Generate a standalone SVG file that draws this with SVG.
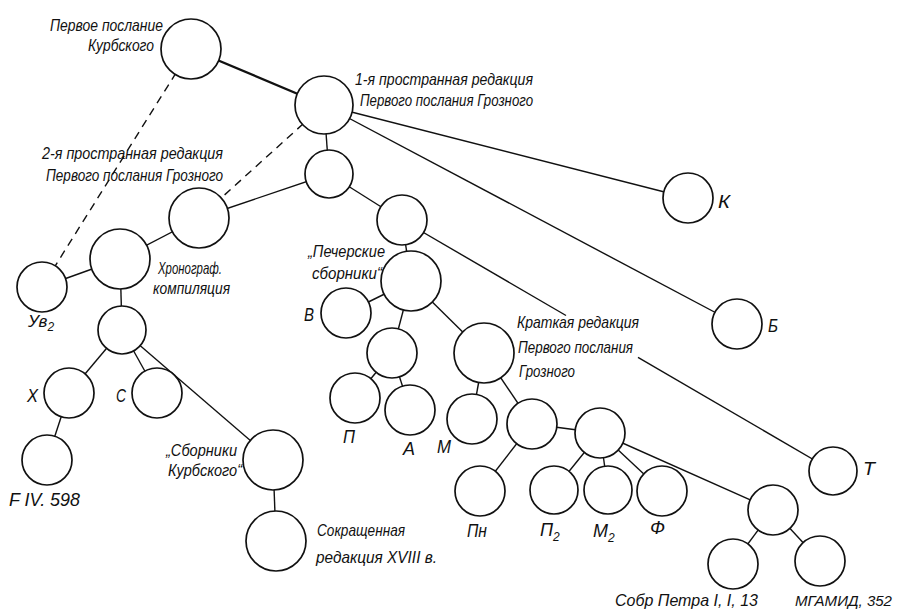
<svg xmlns="http://www.w3.org/2000/svg" width="901" height="614" viewBox="0 0 901 614">
<style>
.n{fill:#fff;stroke:#111;stroke-width:1.7}
.e{stroke:#111;stroke-width:1.4;fill:none}
.thick{stroke-width:2.3}
.d{stroke-dasharray:8 6}
.t{font-family:"Liberation Sans",Arial,sans-serif;font-style:italic;font-size:17px;fill:#111}
.s{font-family:"Liberation Sans",Arial,sans-serif;font-style:italic;font-size:18px;fill:#111}
.sub{font-size:12px}
</style>
<rect width="901" height="614" fill="#fff"/>
<g id="connectors">
<line class="e thick" x1="191" y1="49" x2="324" y2="105"/>
<line class="e d" x1="191" y1="49" x2="42" y2="287"/>
<line class="e d" x1="324" y1="105" x2="199" y2="218"/>
<line class="e" x1="324" y1="105" x2="329" y2="174"/>
<line class="e" x1="324" y1="105" x2="688" y2="198"/>
<line class="e" x1="324" y1="105" x2="737" y2="324"/>
<line class="e" x1="329" y1="174" x2="199" y2="218"/>
<line class="e" x1="329" y1="174" x2="402" y2="220"/>
<line class="e" x1="199" y1="218" x2="120" y2="259"/>
<line class="e" x1="120" y1="259" x2="42" y2="287"/>
<line class="e" x1="120" y1="259" x2="122" y2="330"/>
<line class="e" x1="122" y1="330" x2="69" y2="393"/>
<line class="e" x1="122" y1="330" x2="157" y2="393"/>
<line class="e" x1="122" y1="330" x2="273" y2="460"/>
<line class="e" x1="69" y1="393" x2="47" y2="460"/>
<line class="e" x1="273" y1="460" x2="276" y2="541"/>
<line class="e" x1="402" y1="220" x2="411" y2="281"/>
<line class="e" x1="402" y1="220" x2="566" y2="315.5"/>
<line class="e" x1="638" y1="357.4" x2="833" y2="471"/>
<line class="e" x1="411" y1="281" x2="346" y2="313"/>
<line class="e" x1="411" y1="281" x2="392" y2="353"/>
<line class="e" x1="411" y1="281" x2="484" y2="353"/>
<line class="e" x1="392" y1="353" x2="355" y2="398"/>
<line class="e" x1="392" y1="353" x2="410" y2="410"/>
<line class="e" x1="484" y1="353" x2="472" y2="419"/>
<line class="e" x1="484" y1="353" x2="532" y2="424"/>
<line class="e" x1="532" y1="424" x2="600" y2="433"/>
<line class="e" x1="532" y1="424" x2="480" y2="491"/>
<line class="e" x1="600" y1="433" x2="554" y2="490"/>
<line class="e" x1="600" y1="433" x2="608" y2="490"/>
<line class="e" x1="600" y1="433" x2="662" y2="491"/>
<line class="e" x1="600" y1="433" x2="773" y2="510"/>
<line class="e" x1="773" y1="510" x2="733" y2="564"/>
<line class="e" x1="773" y1="510" x2="820" y2="561"/>
</g>
<g id="n1"><circle class="n" cx="191" cy="49" r="30"/>
<text class="t" x="50" y="31" textLength="113" lengthAdjust="spacingAndGlyphs">Первое послание</text>
<text class="t" x="88" y="51" textLength="66" lengthAdjust="spacingAndGlyphs">Курбского</text></g>
<g id="n2"><circle class="n" cx="324" cy="105" r="29"/>
<text class="t" x="355" y="85" textLength="178" lengthAdjust="spacingAndGlyphs">1-я пространная редакция</text>
<text class="t" x="360" y="106" textLength="173" lengthAdjust="spacingAndGlyphs">Первого послания Грозного</text></g>
<g id="n3"><circle class="n" cx="329" cy="174" r="24"/></g>
<g id="n4"><circle class="n" cx="199" cy="218" r="30"/>
<text class="t" x="42" y="159" textLength="181" lengthAdjust="spacingAndGlyphs">2-я пространная редакция</text>
<text class="t" x="46" y="181" textLength="177" lengthAdjust="spacingAndGlyphs">Первого послания Грозного</text></g>
<g id="n5"><circle class="n" cx="120" cy="259" r="30"/>
<text class="t" x="158" y="274" textLength="64" lengthAdjust="spacingAndGlyphs">Хронограф.</text>
<text class="t" x="153" y="294" textLength="77" lengthAdjust="spacingAndGlyphs">компиляция</text></g>
<g id="n6"><circle class="n" cx="42" cy="287" r="25"/>
<text class="t" x="28" y="327">Ув<tspan class="sub" dy="4">2</tspan></text></g>
<g id="n7"><circle class="n" cx="122" cy="330" r="24"/></g>
<g id="n8"><circle class="n" cx="69" cy="393" r="25"/>
<text class="s" x="27" y="402" textLength="11" lengthAdjust="spacingAndGlyphs">Х</text></g>
<g id="n9"><circle class="n" cx="157" cy="393" r="25"/>
<text class="s" x="116" y="402" textLength="10" lengthAdjust="spacingAndGlyphs">С</text></g>
<g id="n10"><circle class="n" cx="47" cy="460" r="25"/>
<text class="s" x="9" y="506" textLength="71" lengthAdjust="spacingAndGlyphs">F IV. 598</text></g>
<g id="n11"><circle class="n" cx="273" cy="460" r="30"/>
<text class="t" x="166" y="456" textLength="71" lengthAdjust="spacingAndGlyphs">„Сборники</text>
<text class="t" x="168" y="476" textLength="74" lengthAdjust="spacingAndGlyphs">Курбского“</text></g>
<g id="n12"><circle class="n" cx="276" cy="541" r="30"/>
<text class="t" x="317" y="536" textLength="88" lengthAdjust="spacingAndGlyphs">Сокращенная</text>
<text class="t" x="316" y="563" textLength="121" lengthAdjust="spacingAndGlyphs">редакция XVIII в.</text></g>
<g id="n13"><circle class="n" cx="402" cy="220" r="25"/></g>
<g id="n14"><circle class="n" cx="411" cy="281" r="30"/>
<text class="t" x="308" y="257" textLength="77" lengthAdjust="spacingAndGlyphs">„Печерские</text>
<text class="t" x="312" y="279" textLength="70" lengthAdjust="spacingAndGlyphs">сборники“</text></g>
<g id="n15"><circle class="n" cx="346" cy="313" r="25"/>
<text class="s" x="304" y="321" textLength="10" lengthAdjust="spacingAndGlyphs">В</text></g>
<g id="n16"><circle class="n" cx="392" cy="353" r="25"/></g>
<g id="n17"><circle class="n" cx="484" cy="353" r="30"/>
<text class="t" x="517" y="328" textLength="122" lengthAdjust="spacingAndGlyphs">Краткая редакция</text>
<text class="t" x="518" y="353" textLength="115" lengthAdjust="spacingAndGlyphs">Первого послания</text>
<text class="t" x="519" y="377" textLength="56" lengthAdjust="spacingAndGlyphs">Грозного</text></g>
<g id="n18"><circle class="n" cx="355" cy="398" r="25"/>
<text class="s" x="343" y="443" textLength="12" lengthAdjust="spacingAndGlyphs">П</text></g>
<g id="n19"><circle class="n" cx="410" cy="410" r="25"/>
<text class="s" x="403" y="455" textLength="12" lengthAdjust="spacingAndGlyphs">А</text></g>
<g id="n20"><circle class="n" cx="472" cy="419" r="25"/>
<text class="s" x="437" y="453" textLength="14" lengthAdjust="spacingAndGlyphs">М</text></g>
<g id="n21"><circle class="n" cx="532" cy="424" r="25"/></g>
<g id="n22"><circle class="n" cx="600" cy="433" r="25"/></g>
<g id="n23"><circle class="n" cx="480" cy="491" r="25"/>
<text class="s" x="467" y="537" textLength="20" lengthAdjust="spacingAndGlyphs">Пн</text></g>
<g id="n24"><circle class="n" cx="554" cy="490" r="24"/>
<text class="s" x="540" y="536">П<tspan class="sub" dy="5">2</tspan></text></g>
<g id="n25"><circle class="n" cx="608" cy="490" r="24"/>
<text class="s" x="593" y="537">М<tspan class="sub" dy="5">2</tspan></text></g>
<g id="n26"><circle class="n" cx="662" cy="491" r="25"/>
<text class="s" x="650" y="534" textLength="15" lengthAdjust="spacingAndGlyphs">Ф</text></g>
<g id="n27"><circle class="n" cx="773" cy="510" r="25"/></g>
<g id="n28"><circle class="n" cx="733" cy="564" r="25"/>
<text class="t" x="615" y="606" textLength="143" lengthAdjust="spacingAndGlyphs">Собр Петра I, I, 13</text></g>
<g id="n29"><circle class="n" cx="820" cy="561" r="25"/>
<text class="t" x="795" y="606" style="font-size:15px" textLength="97" lengthAdjust="spacingAndGlyphs">МГАМИД, 352</text></g>
<g id="n30"><circle class="n" cx="833" cy="471" r="24"/>
<text class="s" x="863" y="475" textLength="12" lengthAdjust="spacingAndGlyphs">Т</text></g>
<g id="n31"><circle class="n" cx="737" cy="324" r="25"/>
<text class="s" x="768" y="332" textLength="10" lengthAdjust="spacingAndGlyphs">Б</text></g>
<g id="n32"><circle class="n" cx="688" cy="198" r="25"/>
<text class="s" x="718" y="208" textLength="12" lengthAdjust="spacingAndGlyphs">К</text></g>
</svg>
